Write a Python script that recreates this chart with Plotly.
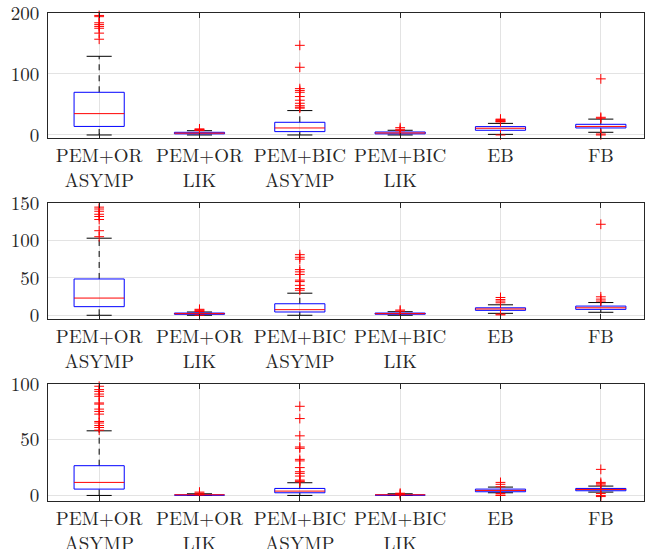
import plotly.graph_objects as go

CATEGORIES = ["PEM+OR<br>ASYMP", "PEM+OR<br>LIK", "PEM+BIC<br>ASYMP", "PEM+BIC<br>LIK", "EB", "FB"]

# Panel 1
P1_Q1 = [14, 1.8, 5.5, 1.8, 7.7, 11.5]
P1_MED = [35, 3.0, 11.5, 3.3, 11, 14]
P1_Q3 = [70, 4.4, 20.8, 4.9, 13.7, 17.5]
P1_LO = [0, 0, 0, 0, 1, 4.4]
P1_HI = [129, 7, 40, 7.7, 19, 26]
P1_OUT = [
    [157, 167, 175, 178, 181, 184, 194, 196],
    [7.5, 8, 9, 10],
    [44, 45.5, 48, 52, 57, 63, 70, 73, 76, 111, 147],
    [7, 9.3, 12],
    [0, 21.5, 22, 23, 24, 25, 26],
    [0, 1.6, 27.4, 29, 92],
]

# Panel 2
P2_Q1 = [11.5, 1.3, 4.4, 1.4, 6.6, 7.9]
P2_MED = [23, 2.2, 7.5, 2.2, 8.4, 10]
P2_Q3 = [48.5, 3.0, 15.4, 3.0, 10, 12.3]
P2_LO = [0, 0, 0, 0, 2.6, 4]
P2_HI = [103, 4.4, 29.5, 4.8, 14, 17]
P2_OUT = [
    [105, 113, 128, 132, 135, 139, 142, 144.5],
    [0, 5, 6, 7, 8],
    [33.5, 35.7, 40, 45, 47, 54.6, 58, 61, 75, 77.5, 81],
    [5.5, 7],
    [0.5, 1.5, 16.7, 19, 21, 23.8],
    [19, 21.6, 24.7, 121.6],
]

# Panel 3
P3_Q1 = [5.7, 0.3, 2.4, 0.3, 3.3, 4.2]
P3_MED = [11.7, 0.6, 3.9, 0.6, 4.5, 5.4]
P3_Q3 = [26.7, 0.9, 6.3, 0.9, 5.7, 6.3]
P3_LO = [0, 0, 0, 0, 2.4, 3]
P3_HI = [58, 1.5, 11.4, 1.5, 7.5, 8.4]
P3_OUT = [
    [58.6, 61, 62.8, 65, 66.4, 73, 75.4, 77.5, 82, 83, 89, 91, 93.4, 95, 98],
    [0.5, 1, 2, 3],
    [12.3, 12.9, 13.8, 17.4, 19.8, 21.3, 25, 31, 32.4, 42.3, 43.5, 53.5, 69, 80],
    [0.5, 1.5, 2],
    [0, 0.3, 1.8, 7.8, 10, 11.7],
    [-1, 0, 1.8, 9.3, 10.5, 11.7, 23.4],
]

Y_RANGES = [[-5, 200], [-5, 150], [-5, 100]]
Y_TICKS = [[0, 100, 200], [0, 50, 100, 150], [0, 50, 100]]
Y_DOMAINS = [[0.7486, 0.9763], [0.4189, 0.6302], [0.0874, 0.3005]]

PANELS = [
    (P1_Q1, P1_MED, P1_Q3, P1_LO, P1_HI, P1_OUT),
    (P2_Q1, P2_MED, P2_Q3, P2_LO, P2_HI, P2_OUT),
    (P3_Q1, P3_MED, P3_Q3, P3_LO, P3_HI, P3_OUT),
]

BOX_HW = 0.25
CAP_HW = 0.125
TXT = "#262626"
GRID = "#e3e3e3"
FONT = "Latin Modern Roman"

fig = go.Figure()

for i, (q1, med, q3, lo, hi, out) in enumerate(PANELS):
    xa = "x" if i == 0 else f"x{i+1}"
    ya = "y" if i == 0 else f"y{i+1}"
    pos = list(range(1, len(CATEGORIES) + 1))
    wx, wy, cx, cy, bx, by, mx, my, ox, oy = [], [], [], [], [], [], [], [], [], []
    for k, p in enumerate(pos):
        wx += [p, p, None, p, p, None]
        wy += [q3[k], hi[k], None, lo[k], q1[k], None]
        cx += [p - CAP_HW, p + CAP_HW, None, p - CAP_HW, p + CAP_HW, None]
        cy += [hi[k], hi[k], None, lo[k], lo[k], None]
        bx += [p - BOX_HW, p + BOX_HW, p + BOX_HW, p - BOX_HW, p - BOX_HW, None]
        by += [q1[k], q1[k], q3[k], q3[k], q1[k], None]
        mx += [p - BOX_HW, p + BOX_HW, None]
        my += [med[k], med[k], None]
        for v in out[k]:
            ox.append(p)
            oy.append(v)
    common = dict(xaxis=xa, yaxis=ya, showlegend=False, hoverinfo="skip", cliponaxis=False)
    fig.add_trace(go.Scatter(x=wx, y=wy, mode="lines",
                             line=dict(color="black", width=1, dash="6px,5px"), **common))
    fig.add_trace(go.Scatter(x=cx, y=cy, mode="lines",
                             line=dict(color="black", width=1), **common))
    fig.add_trace(go.Scatter(x=bx, y=by, mode="lines",
                             line=dict(color="#0000ff", width=1), **common))
    fig.add_trace(go.Scatter(x=mx, y=my, mode="lines",
                             line=dict(color="#ff0000", width=1), **common))
    fig.add_trace(go.Scatter(x=ox, y=oy, mode="markers",
                             marker=dict(symbol="cross-thin", size=7,
                                         line=dict(color="#ff0000", width=1)),
                             **common))

layout = dict(
    width=645, height=549,
    margin=dict(l=0, r=0, t=0, b=0, autoexpand=False),
    paper_bgcolor="white", plot_bgcolor="white",
    font=dict(family=FONT, color=TXT),
)
for i in range(3):
    xkey = "xaxis" if i == 0 else f"xaxis{i+1}"
    ykey = "yaxis" if i == 0 else f"yaxis{i+1}"
    ya = "y" if i == 0 else f"y{i+1}"
    xa = "x" if i == 0 else f"x{i+1}"
    layout[xkey] = dict(
        domain=[0.0744, 0.9984], anchor=ya, automargin=False,
        range=[0.49, 6.43],
        tickmode="array", tickvals=list(range(1, 7)), ticktext=CATEGORIES,
        tickfont=dict(family=FONT, size=19, color=TXT),
        ticklabeloverflow="allow",
        showgrid=True, gridcolor=GRID, gridwidth=1,
        zeroline=False,
        showline=True, linecolor=TXT, linewidth=1, mirror="ticks",
        ticks="inside", ticklen=5, tickcolor=TXT,
    )
    layout[ykey] = dict(
        domain=Y_DOMAINS[i], anchor=xa, automargin=False,
        range=Y_RANGES[i],
        tickmode="array", tickvals=Y_TICKS[i],
        tickfont=dict(family=FONT, size=19, color=TXT),
        ticklabeloverflow="allow", ticklabelstandoff=4,
        showgrid=True, gridcolor=GRID, gridwidth=1,
        zeroline=False,
        showline=True, linecolor=TXT, linewidth=1, mirror=True,
        ticks="", ticklen=4,
    )
fig.update_layout(**layout)

fig.write_html("out.html")
